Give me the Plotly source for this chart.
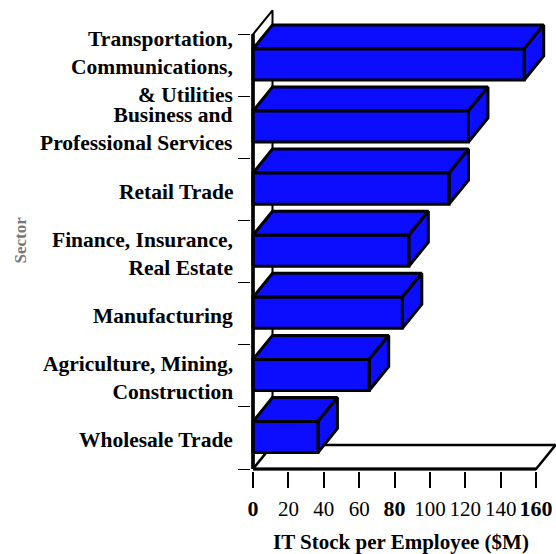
import plotly.graph_objects as go

# ---- data (bottom to top) ----
sectors = [
    "Wholesale Trade",
    "Agriculture, Mining,<br>Construction",
    "Manufacturing",
    "Finance, Insurance,<br>Real Estate",
    "Retail Trade",
    "Business and<br>Professional Services",
    "Transportation,<br>Communications,<br>& Utilities",
]
it_stock = [36.7, 65.7, 84.4, 88.1, 110.8, 121.8, 153.3]
x_tick_vals = [0, 20, 40, 60, 80, 100, 120, 140, 160]
x_tick_text = ["0", "20", "40", "60", "80", "100", "120", "140", "160"]
bold_ticks = ["0", "80", "160"]
x_title = "IT Stock per Employee ($M)"
y_title = "Sector"

# ---- geometry / style ----
W, H = 556, 554
ML, MR, MT, MB = 251, 0, 4, 83
px_per_x = 1.769          # pixels per data unit (x)
px_per_row = 62.1         # pixels per category row
XMAX_DATA = 160
x0 = -2 / px_per_x
x1 = x0 + (W - ML - MR) / px_per_x
y0 = -0.5 - 2 / px_per_row
y1 = y0 + (H - MT - MB) / px_per_row
DX = 19.5 / px_per_x      # depth offset in x units
DY = 24 / px_per_row      # depth offset in y units
HALF = 0.25
BLUE = "#0c0cff"
FONT = "Liberation Serif"
n = len(sectors)

fig = go.Figure()


def poly(xs, ys, fill, lw=3, color="black"):
    fig.add_trace(go.Scatter(
        x=xs + [xs[0]], y=ys + [ys[0]], mode="lines", fill="toself",
        fillcolor=fill, line=dict(color=color, width=lw),
        hoverinfo="skip", showlegend=False))


def seg(xs, ys, lw):
    fig.add_trace(go.Scatter(x=xs, y=ys, mode="lines",
                             line=dict(color="black", width=lw),
                             hoverinfo="skip", showlegend=False))


top = n - 0.5
bot = -0.5
# back wall
poly([0, DX, DX, 0], [bot, bot + DY, top + DY, top], "white", lw=2)
# floor
poly([0, XMAX_DATA, XMAX_DATA + DX, DX], [bot, bot, bot + DY, bot + DY], "white", lw=2.5)
seg([0, XMAX_DATA], [bot, bot], 3)
seg([0, 0], [bot, top], 3.2)

# bars (draw from top to bottom)
for i in range(n - 1, -1, -1):
    v = it_stock[i]
    c = i + 0.015
    yb, yt = c - HALF, c + HALF
    # top face
    poly([0, v, v + DX, DX], [yt, yt, yt + DY, yt + DY], BLUE)
    # side face
    poly([v, v + DX, v + DX, v], [yb, yb + DY, yt + DY, yt], BLUE)
    # front face
    poly([0, v, v, 0], [yb, yb, yt, yt], BLUE)

seg([0, 0], [bot, top], 3.2)

# category labels
for i, s in enumerate(sectors):
    fig.add_annotation(x=0, y=i, xref="x", yref="y", text=f"<b>{s}</b>",
                       showarrow=False, xanchor="right", yanchor="middle",
                       align="right", xshift=-18, yshift=-2,
                       font=dict(family=FONT, size=21.5, color="black"))

# tick text
tt = []
for t in x_tick_text:
    if t in bold_ticks:
        tt.append(f"<b><span style='font-size:22px'>{t}</span></b>")
    else:
        tt.append(t)

fig.add_annotation(x=0.492, y=0, xref="paper", yref="paper", text=f"<b>{x_title}</b>",
                   showarrow=False, xanchor="center", yanchor="middle", yshift=-71,
                   font=dict(family=FONT, size=21, color="black"))
fig.add_annotation(x=0, y=0.5, xref="paper", yref="paper", text=f"<b>{y_title}</b>",
                   showarrow=False, xanchor="center", yanchor="middle", xshift=-231,
                   yshift=-3, textangle=-90,
                   font=dict(family=FONT, size=17, color="#767676"))

fig.update_layout(
    width=W, height=H, margin=dict(l=ML, r=MR, t=MT, b=MB, autoexpand=False),
    paper_bgcolor="white", plot_bgcolor="white", showlegend=False,
    xaxis=dict(range=[x0, x1], tickvals=x_tick_vals, ticktext=tt, automargin=False,
               ticks="outside", ticklen=16, tickwidth=1.5, tickcolor="black",
               ticklabelstandoff=3,
               showgrid=False, zeroline=False, showline=False,
               tickfont=dict(family=FONT, size=21, color="black")),
    yaxis=dict(range=[y0, y1], tickvals=[k - 0.5 for k in range(n + 1)], automargin=False,
               ticktext=[""] * (n + 1), ticks="outside", ticklen=12, tickwidth=1,
               tickcolor="black", showgrid=False, zeroline=False, showline=False),
)

fig.write_html("out.html", config={"displayModeBar": False},
               post_script="document.body.style.margin='0';document.body.style.overflow='hidden';")
